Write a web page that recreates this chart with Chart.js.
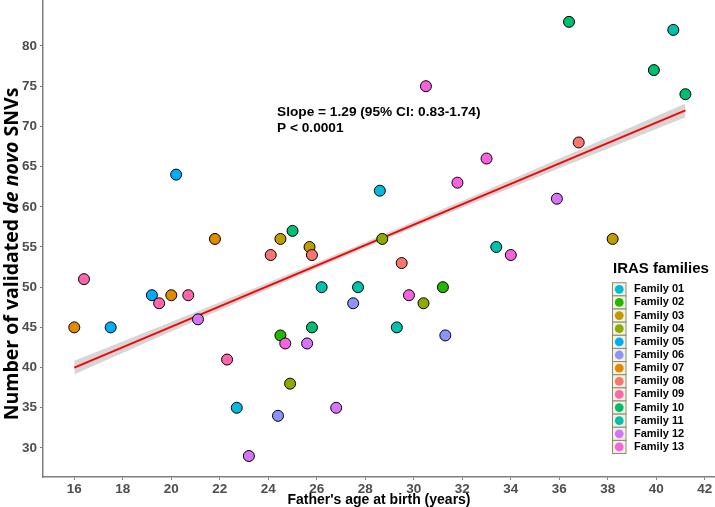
<!DOCTYPE html>
<html><head><meta charset="utf-8">
<script src="https://cdn.jsdelivr.net/npm/chart.js@4.4.1/dist/chart.umd.min.js"></script>
<style>html,body{margin:0;padding:0;background:#fff;}canvas{display:block;}</style>
</head><body>
<canvas id="c" width="715" height="507"></canvas>
<script>
const familyNames = ['Family 01','Family 02','Family 03','Family 04','Family 05','Family 06','Family 07','Family 08','Family 09','Family 10','Family 11','Family 12','Family 13'];
const familyColors = ['#00BBDA','#24B700','#BE9C00','#8CAB00','#00ACFC','#8B93FF','#E18A00','#F8766D','#FF65AC','#00BE70','#00C1AB','#D575FE','#F962DD'];

const fatherAge = [16.4,16.0,17.5,19.2,19.5,20.0,20.7,21.1,22.3,22.7,23.2,24.4,24.5,24.7,24.9,24.1,21.8,24.5,25.7,25.8,28.7,33.4,29.5,26.2,27.7,27.5,29.8,30.4,31.2,25.8,25.6,29.3,31.3,26.8,30.5,28.6,31.8,33.0,25.0,20.2,36.4,40.7,39.9,41.2,36.8,35.9,38.2,34.0];
const snvCount  = [51,45,45,49,48,49,49,46,41,35,29,34,44,43,38,54,56,56,55,54,56,55,53,50,50,48,49,48,50,45,43,45,44,35,75,62,63,66,57,64,83,82,77,74,68,61,56,54];
const familyOf  = [9,7,5,5,9,7,9,12,9,1,12,6,2,13,4,8,7,3,3,8,4,11,8,11,11,6,13,4,2,10,12,11,6,12,13,1,13,13,10,5,10,11,10,10,8,12,3,13];

const xTickValues = [16,18,20,22,24,26,28,30,32,34,36,38,40,42];
const yTickValues = [30,35,40,45,50,55,60,65,70,75,80];

const fitX = [16, 41.2];
const fitY = [40.0, 72.0];
const bandX = [16, 20, 24, 28, 32, 36, 41.2];
const bandUpper = [40.85, 45.68, 50.58, 55.59, 60.74, 66.0, 72.85];
const bandLower = [39.15, 44.48, 49.74, 54.89, 59.90, 64.8, 71.15];

const slopeLabel = 'Slope = 1.29 (95% CI: 0.83-1.74)';
const pLabel = 'P < 0.0001';
const xTitle = "Father's age at birth (years)";
const yTitleParts = [['Number of validated ', false], ['de novo', true], [' SNVs', false]];
const legendTitle = 'IRAS families';

const sans = '"Liberation Sans", Arial, sans-serif';

const pointSets = familyNames.map((name, k) => ({
  type: 'scatter',
  label: name,
  data: fatherAge.map((x, i) => ({x: x, y: snvCount[i], f: familyOf[i]})).filter(p => p.f === k + 1),
  backgroundColor: familyColors[k],
  borderColor: '#000',
  borderWidth: 1,
  pointRadius: 5.5,
  pointHoverRadius: 5.5,
  order: 13 - k
}));

const bandSets = [
  {type: 'line', label: 'ci-upper', data: bandX.map((x, i) => ({x: x, y: bandUpper[i]})),
   borderWidth: 0, borderColor: 'rgba(0,0,0,0)', pointRadius: 0, fill: '+1', backgroundColor: '#D6D6D6', order: 101, tension: 0.3},
  {type: 'line', label: 'ci-lower', data: bandX.map((x, i) => ({x: x, y: bandLower[i]})),
   borderWidth: 0, borderColor: 'rgba(0,0,0,0)', pointRadius: 0, fill: false, order: 100, tension: 0.3},
  {type: 'line', label: 'fit', data: fitX.map((x, i) => ({x: x, y: fitY[i]})),
   borderWidth: 2, borderColor: '#FF0000', pointRadius: 0, fill: false, order: 99}
];

const overlay = {
  id: 'overlay',
  afterDraw(chart) {
    const ctx = chart.ctx;
    ctx.save();
    ctx.translate(18, 254);
    ctx.rotate(-Math.PI / 2);
    ctx.fillStyle = '#000';
    ctx.textBaseline = 'alphabetic';
    ctx.textAlign = 'left';
    const fonts = yTitleParts.map(p => (p[1] ? 'italic ' : '') + 'bold 19.5px "Open Sans", Lato, sans-serif');
    let total = 0;
    const widths = yTitleParts.map((p, i) => { ctx.font = fonts[i]; const w = ctx.measureText(p[0]).width; total += w; return w; });
    let x = -total / 2;
    yTitleParts.forEach((p, i) => { ctx.font = fonts[i]; ctx.fillText(p[0], x, 0); x += widths[i]; });
    ctx.restore();

    ctx.save();
    ctx.fillStyle = '#000';
    ctx.font = 'bold 13.7px ' + sans;
    ctx.textBaseline = 'middle';
    ctx.textAlign = 'left';
    ctx.fillText(slopeLabel, 277, 112);
    ctx.fillText(pLabel, 277, 128);
    ctx.restore();

    ctx.save();
    ctx.fillStyle = '#000';
    ctx.font = 'bold 15px ' + sans;
    ctx.textBaseline = 'middle';
    ctx.textAlign = 'left';
    ctx.fillText(legendTitle, 613, 269);
    const step = 13.14, y0 = 289.3;
    familyNames.forEach((name, k) => {
      const cy = y0 + k * step;
      ctx.fillStyle = '#F4F1DE';
      ctx.fillRect(612.5, cy - step / 2, 13.5, step);
      ctx.strokeStyle = '#8A8A7A';
      ctx.lineWidth = 1;
      ctx.strokeRect(612.5, cy - step / 2, 13.5, step);
      ctx.beginPath();
      ctx.arc(619.25, cy, 4.4, 0, Math.PI * 2);
      ctx.fillStyle = familyColors[k];
      ctx.fill();
      ctx.fillStyle = '#000';
      ctx.font = 'bold 11px ' + sans;
      ctx.fillText(name, 634, cy);
    });
    ctx.restore();
  }
};

new Chart(document.getElementById('c'), {
  type: 'scatter',
  data: {datasets: [...bandSets, ...pointSets]},
  options: {
    animation: false,
    responsive: false,
    devicePixelRatio: 1,
    layout: {padding: 0, autoPadding: false},
    plugins: {legend: {display: false}, tooltip: {enabled: false}},
    scales: {
      x: {
        type: 'linear', min: 14.71, max: 42.42,
        afterBuildTicks: s => { s.ticks = xTickValues.map(v => ({value: v})); },
        afterFit: s => { s.height = 30; s.paddingLeft = 0; s.paddingRight = 0; },
        grid: {display: true, drawOnChartArea: false, drawTicks: true, tickLength: 3, color: '#7F7F7F', lineWidth: 1},
        border: {display: true, color: '#7F7F7F', width: 1.5},
        ticks: {font: {family: sans, size: 13.5, weight: 'bold'}, color: '#4D4D4D', padding: 1, maxRotation: 0, autoSkip: false},
        title: {display: true, text: xTitle, font: {family: sans, size: 14, weight: 'bold', lineHeight: 1}, color: '#000', padding: {top: 0, bottom: 0}}
      },
      y: {
        type: 'linear', min: 26.39, max: 85.72,
        afterBuildTicks: s => { s.ticks = yTickValues.map(v => ({value: v})); },
        afterFit: s => { s.width = 43; s.paddingTop = 0; s.paddingBottom = 0; },
        grid: {display: true, drawOnChartArea: false, drawTicks: true, tickLength: 3, color: '#7F7F7F', lineWidth: 1},
        border: {display: true, color: '#7F7F7F', width: 1.5},
        ticks: {font: {family: sans, size: 13.5, weight: 'bold'}, color: '#4D4D4D', padding: 3, autoSkip: false}
      }
    }
  },
  plugins: [overlay]
});
</script>
</body></html>
